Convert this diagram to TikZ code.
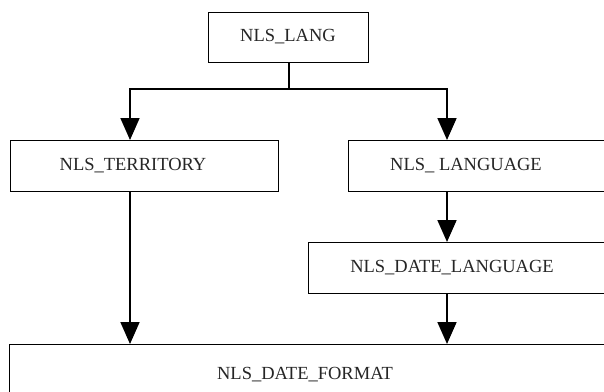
\documentclass[tikz,border=0pt]{standalone}
\usepackage{fontspec}
\setmainfont{Liberation Serif}
\usetikzlibrary{arrows.meta}
\tikzset{
  box/.style={draw=black, line width=1.3pt, fill=white, inner sep=0pt, anchor=north west},
  lbl/.style={font=\fontsize{18.5}{22}\selectfont, inner sep=0pt, text=black!85},
  conn/.style={draw=black, line width=1.8pt},
  arr/.style={conn, -{Triangle[length=22pt,width=19pt]}}
}
\begin{document}
\begin{tikzpicture}[x=1pt,y=-1pt]
  \clip (0,0) rectangle (604,391);
  \fill[white] (0,0) rectangle (604,391);
  % boxes
  \node[box, minimum width=160pt, minimum height=50pt] (lang) at (208,12) {};
  \node[box, minimum width=268pt, minimum height=51pt] (terr) at (10,140) {};
  \node[box, minimum width=280pt, minimum height=51pt] (language) at (348,140) {};
  \node[box, minimum width=320pt, minimum height=51pt] (datelang) at (308,242) {};
  \node[box, minimum width=620pt, minimum height=80pt] (datefmt) at (9,344) {};
  % texts
  \node[lbl] (tlang) at (288,37) {NLS\_LANG};
  \node[lbl] (tterr) at (133,165.5) {NLS\_TERRITORY};
  \node[lbl] (tlanguage) at (466,165.5) {NLS\_ LANGUAGE};
  \node[lbl] (tdatelang) at (452,267.5) {NLS\_DATE\_LANGUAGE};
  \node[lbl] (tdatefmt) at (305,375) {NLS\_DATE\_FORMAT};
  % connectors
  \coordinate (bL) at (130,89);
  \coordinate (bR) at (447,89);
  \draw[conn] (lang.south) -- (lang.south |- bL);
  \draw[conn] ([xshift=-1pt]bL) -- ([xshift=1pt]bR);
  \draw[arr] (bL) -- (bL |- terr.north);
  \draw[arr] (bR) -- (bR |- language.north);
  \draw[arr] (bL |- terr.south) -- (bL |- datefmt.north);
  \draw[arr] (bR |- language.south) -- (bR |- datelang.north);
  \draw[arr] (bR |- datelang.south) -- (bR |- datefmt.north);
\end{tikzpicture}
\end{document}
